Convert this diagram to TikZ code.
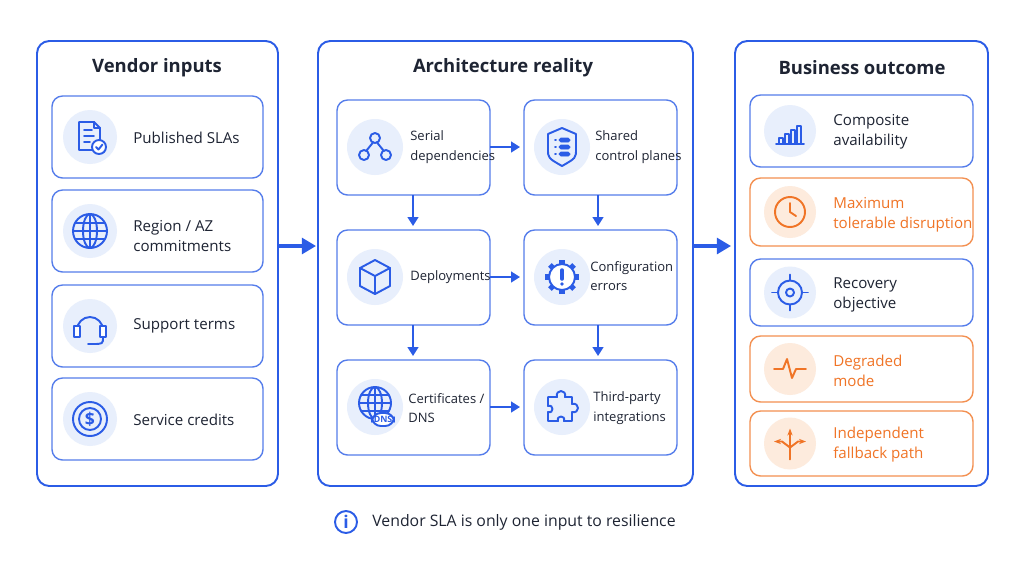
\documentclass[tikz,border=0pt]{standalone}
\usepackage{fontspec}
\setmainfont{Open Sans}
\usetikzlibrary{arrows.meta,calc,positioning}
\definecolor{bl}{HTML}{2B5CE6}
\definecolor{blc}{HTML}{E8EFFC}
\definecolor{og}{HTML}{F07426}
\definecolor{ogc}{HTML}{FDEBDD}
\definecolor{txt}{HTML}{1E2433}
\tikzset{
  panel/.style={draw=bl,line width=1.1pt,rounded corners=7pt,fill=white},
  card/.style={draw=bl!80,line width=0.8pt,rounded corners=6pt,fill=white},
  ocard/.style={draw=og!80,line width=0.8pt,rounded corners=6pt,fill=white},
  title/.style={font=\bfseries\fontsize{10.5}{13}\selectfont,text=txt},
  lbl/.style={font=\fontsize{8.6}{11.4}\selectfont,text=txt,align=left,anchor=west,inner sep=0pt},
  mlbl/.style={lbl,font=\fontsize{7.4}{11.2}\selectfont},
  olbl/.style={lbl,text=og},
  ico/.style={draw=bl,line width=1.1pt,line cap=round,line join=round},
  oico/.style={draw=og,line width=1.1pt,line cap=round,line join=round},
  flow/.style={-{Triangle[length=5pt,width=6pt]},draw=bl,line width=1.1pt},
  big/.style={-{Triangle[length=8pt,width=9pt]},draw=bl,line width=1.8pt}
}
\begin{document}
\begin{tikzpicture}[x=0.02cm,y=-0.02cm]
\useasboundingbox (0,0) rectangle (1024,576);

% panels
\draw[panel] (37,41) rectangle (278,486);
\draw[panel] (318,41) rectangle (693,486);
\draw[panel] (735,41) rectangle (988,486);
\node[title] (t1) at (157,68) {Vendor inputs};
\node[title] (t2) at (503,68) {Architecture reality};
\node[title] (t3) at (862,68) {Business outcome};

% vendor inputs
\foreach \y/\name in {137/a1,231/a2,326/a3,419/a4}{
  \draw[card] (52,\y-41) rectangle (263,\y+41);
  \fill[blc] (90,\y) circle (27);
  \coordinate (\name) at (90,\y);
}
\node[lbl] (l1) at (133,138) {Published SLAs};
\node[lbl] (l2) at (133,236) {Region / AZ\\commitments};
\node[lbl] (l3) at (133,326) {Support terms};
\node[lbl] (l4) at (133,420) {Service credits};
% document icon
\begin{scope}[shift={(a1)}]
\draw[ico] (-11,-15) -- (4,-15) -- (10,-9) -- (10,13) -- (-11,13) -- cycle;
\draw[ico] (4,-15) -- (4,-9) -- (10,-9);
\draw[ico] (-6,-7) -- (2,-7) (-6,-1) -- (4,-1) (-6,5) -- (0,5);
\draw[ico,fill=white] (9,10) circle (7);
\draw[ico] (6,10) -- (8.5,12.5) -- (12.5,7.5);
\end{scope}
% globe icon
\begin{scope}[shift={(a2)}]
\draw[ico] (0,0) circle (17);
\draw[ico] (0,0) ellipse (7 and 17);
\draw[ico] (-17,0) -- (17,0) (0,-17) -- (0,17) (-15,-8) -- (15,-8) (-15,8) -- (15,8);
\end{scope}
% headset icon
\begin{scope}[shift={(a3)}]
\draw[ico] (-13,4) arc (180:360:13);
\draw[ico,fill=white] (-16,0) rectangle (-10,11);
\draw[ico,fill=white] (10,0) rectangle (16,11);
\draw[ico] (13,11) .. controls (13,18) .. (2,18);
\draw[ico] (-2,18) -- (2,18);
\end{scope}
% coin icon
\begin{scope}[shift={(a4)}]
\draw[ico] (0,0) circle (17);
\draw[ico] (0,0) circle (11);
\node[text=bl,font=\bfseries\fontsize{10}{10}\selectfont] at (0,0) {\$};
\end{scope}

% architecture reality
\foreach \x/\y/\name in {337/100/b1,524/100/b2,337/230/b3,524/230/b4,337/360/b5,524/360/b6}{
  \draw[card] (\x,\y) rectangle (\x+153,\y+95);
  \coordinate (\name) at (\x+38,\y+47);
}
\foreach \n in {b1,b2,b3,b4,b5,b6} \fill[blc] (\n) circle (28);
\node[mlbl] (m1) at (410,147) {Serial\\dependencies};
\node[mlbl] (m2) at (595,147) {Shared\\control planes};
\node[mlbl] (m3) at (410,277) {Deployments};
\node[mlbl] (m4) at (590,276) {Configuration\\errors};
\node[mlbl] (m5) at (408,408) {Certificates /\\DNS};
\node[mlbl] (m6) at (593,408) {Third-party\\integrations};
% node graph icon
\begin{scope}[shift={(b1)}]
\draw[ico] (0,-9) circle (5) (-11,8) circle (5) (11,8) circle (5);
\draw[ico] (-2,-4.5) -- (-8.5,3.5) (2,-4.5) -- (8.5,3.5);
\end{scope}
% shield icon
\begin{scope}[shift={(b2)}]
\draw[ico] (0,-19) -- (14,-13) -- (14,2) .. controls (14,11) .. (0,19) .. controls (-14,11) .. (-14,2) -- (-14,-13) -- cycle;
\foreach \dy in {-7,0,7}{
  \draw[ico] (-7,\dy) -- (-6,\dy);
  \draw[bl,fill=bl,rounded corners=1pt] (-3,\dy-2) rectangle (8,\dy+2);
}
\end{scope}
% cube icon
\begin{scope}[shift={(b3)}]
\draw[ico] (0,-17) -- (15,-9) -- (15,9) -- (0,17) -- (-15,9) -- (-15,-9) -- cycle;
\draw[ico] (-15,-9) -- (0,-1) -- (15,-9) (0,-1) -- (0,17);
\end{scope}
% gear icon
\begin{scope}[shift={(b4)}]
\draw[ico] (0,0) circle (13);
\foreach \a in {0,45,...,315} \draw[ico,line width=3pt,line cap=butt] (\a:13) -- (\a:17);
\fill[white] (0,0) circle (11.5);
\draw[line width=2pt,bl,line cap=round] (0,-7) -- (0,2);
\fill[bl] (0,7) circle (1.8);
\end{scope}
% globe with dns
\begin{scope}[shift={(b5)}]
\draw[ico] (0,-4) circle (16);
\draw[ico] (0,-4) ellipse (7 and 16);
\draw[ico] (-16,-4) -- (16,-4) (0,-20) -- (0,12) (-14,-12) -- (14,-12) (-14,4) -- (14,4);
\draw[ico,fill=white,rounded corners=5pt] (-3,6) rectangle (19,19);
\node[text=bl,font=\bfseries\fontsize{5}{5}\selectfont] at (8,12.5) {DNS};
\end{scope}
% puzzle icon
\begin{scope}[shift={(b6)}]
\draw[ico] (-14,-10) -- (-5,-10) .. controls (-7,-18) and (5,-18) .. (3,-10) -- (10,-10) -- (10,-3)
  .. controls (18,-5) and (18,7) .. (10,5) -- (10,14) -- (2,14) .. controls (4,8) and (-6,8) .. (-4,14)
  -- (-14,14) -- (-14,5) .. controls (-8,7) and (-8,-3) .. (-14,-1) -- cycle;
\end{scope}
\draw[flow] (490,147) -- (520,147);
\draw[flow] (490,277) -- (520,277);
\draw[flow] (490,407) -- (520,407);
\draw[flow] (413,195) -- (413,226);
\draw[flow] (598,195) -- (598,226);
\draw[flow] (413,325) -- (413,356);
\draw[flow] (598,325) -- (598,356);

% business outcome
\foreach \y/\h/\s/\name in {95/72/card/c1,178/68/ocard/c2,259/67/card/c3,336/66/ocard/c4,411/65/ocard/c5}{
  \draw[\s] (750,\y) rectangle (973,\y+\h);
  \coordinate (\name) at (790,\y+\h/2);
}
\fill[blc] (c1) circle (26);
\fill[ogc] (c2) circle (26);
\fill[blc] (c3) circle (26);
\fill[ogc] (c4) circle (26);
\fill[ogc] (c5) circle (26);
\node[lbl] (r1) at (833,132) {Composite\\availability};
\node[olbl] (r2) at (833,215) {Maximum\\tolerable disruption};
\node[lbl] (r3) at (833,295) {Recovery\\objective};
\node[olbl] (r4) at (833,371) {Degraded\\mode};
\node[olbl] (r5) at (833,445) {Independent\\fallback path};
% bars
\begin{scope}[shift={(c1)}]
\foreach \x/\h in {-9/6,-3/10,3/14,9/18} \draw[ico] (\x-2,13) rectangle (\x+2,13-\h);
\draw[ico] (-14,13) -- (14,13);
\end{scope}
% clock
\begin{scope}[shift={(c2)}]
\draw[oico] (0,0) circle (15);
\draw[oico] (0,-9) -- (0,0) -- (6,4);
\end{scope}
% target
\begin{scope}[shift={(c3)}]
\draw[ico] (0,0) circle (12) (0,0) circle (4);
\draw[ico] (0,-18) -- (0,-12) (0,12) -- (0,18) (-18,0) -- (-12,0) (12,0) -- (18,0);
\end{scope}
% pulse
\begin{scope}[shift={(c4)}]
\draw[oico] (-16,0) -- (-7,0) -- (-3,-10) -- (2,9) -- (6,0) -- (16,0);
\end{scope}
% branching arrows
\begin{scope}[shift={(c5)}]
\draw[oico,-{Stealth[length=4pt]}] (0,16) -- (0,-15);
\draw[oico,-{Stealth[length=4pt]}] (0,4) -- (-8,-2) -- (-16,-2);
\draw[oico,-{Stealth[length=4pt]}] (0,4) -- (8,-2) -- (16,-2);
\end{scope}

% between panels
\coordinate (p1) at (278,246);
\coordinate (p2) at (316,246);
\coordinate (p3) at (693,246);
\coordinate (p4) at (731,246);
\draw[big] (p1) -- (p2);
\draw[big] (p3) -- (p4);

% footer
\draw[ico] (346,522) circle (11);
\node[text=bl,font=\bfseries\fontsize{10}{10}\selectfont] (i) at (346,522) {i};
\node[lbl,font=\fontsize{9}{11}\selectfont] (ft) at (372,522) {Vendor SLA is only one input to resilience};
\end{tikzpicture}
\end{document}
